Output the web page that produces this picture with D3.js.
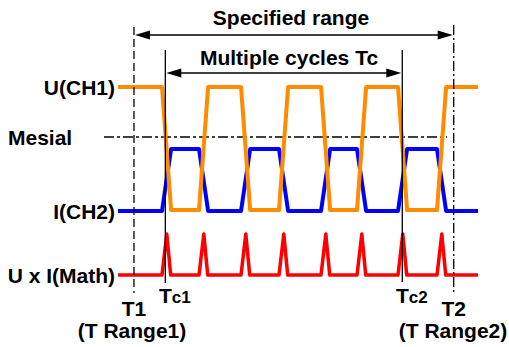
<!DOCTYPE html>
<html><head><meta charset="utf-8">
<script src="https://cdn.jsdelivr.net/npm/d3@7"></script>
<style>html,body{margin:0;padding:0;background:#fff;}svg{display:block;}</style>
</head><body>
<script>
// ---- data (time in arbitrary units, levels in arbitrary display units) ----
const uFallTimes = [5.56, 15.55, 25.66, 35.39];   // U(CH1) falling edges (I rises)
const uRiseTimes = [10.24, 20.35, 30.21, 40.32];  // U(CH1) rising edges (I falls)
const edgeDuration = 1.15;
const spikeDuration = 1.1;
const timeRange = [0, 45.5];
const uLevels = {high: 213, low: 90};
const iLevels = {high: 151, low: 89};
const mathLevels = {base: 25, peak: 66};
const mesialLevel = 163;
const markerNames = ["T1", "Tc1", "Tc2", "T2"];
const markerTimes = [2.02, 5.98, 35.93, 42.43];
const signalLabels = ["U(CH1)", "I(CH2)", "U x I(Math)"];
const rangeLabels = ["Specified range", "Multiple cycles Tc"];
const bottomLabels = ["(T Range1)", "(T Range2)"];

const W = 509, H = 347;
const FS = 21;
const x = d3.scaleLinear().domain(timeRange).range([118, 478]);
const y = d3.scaleLinear().domain([0, 250]).range([300, 50]);

const svg = d3.select("body").append("svg").attr("width", W).attr("height", H)
  .style("font-family", "'Liberation Sans', Arial, sans-serif").style("font-weight", "bold");

// build waveforms
const edges = uFallTimes.map(t => ({t, fall: true})).concat(uRiseTimes.map(t => ({t, fall: false})))
  .sort((a, b) => a.t - b.t);
function square(levels, startHigh, invert) {
  const pts = [[timeRange[0], startHigh ? levels.high : levels.low]];
  edges.forEach(e => {
    const goesLow = invert ? !e.fall : e.fall;
    pts.push([e.t, goesLow ? levels.high : levels.low]);
    pts.push([e.t + edgeDuration, goesLow ? levels.low : levels.high]);
  });
  pts.push([timeRange[1], pts[pts.length - 1][1]]);
  return pts;
}
const uPts = square(uLevels, true, false);
const iPts = square(iLevels, false, true);
const mPts = [[timeRange[0], mathLevels.base]];
edges.forEach(e => {
  mPts.push([e.t, mathLevels.base]);
  mPts.push([e.t + spikeDuration * 0.55, mathLevels.peak]);
  mPts.push([e.t + spikeDuration, mathLevels.base]);
});
mPts.push([timeRange[1], mathLevels.base]);

const line = d3.line().x(d => x(d[0])).y(d => y(d[1]));

// mesial line
svg.append("line").attr("x1", 104).attr("x2", 447)
  .attr("y1", y(mesialLevel)).attr("y2", y(mesialLevel))
  .attr("stroke", "#000").attr("stroke-width", 1.3).attr("stroke-dasharray", "10,3,3,3");

svg.append("path").attr("d", line(iPts)).attr("fill", "none").attr("stroke", "#0000ff")
  .attr("stroke-width", 4).attr("stroke-linejoin", "round");
svg.append("path").attr("d", line(uPts)).attr("fill", "none").attr("stroke", "#ff8c00")
  .attr("stroke-width", 4).attr("stroke-linejoin", "round");
svg.append("path").attr("d", line(mPts)).attr("fill", "none").attr("stroke", "#ff0000")
  .attr("stroke-width", 3.5).attr("stroke-linejoin", "round");

// marker lines
const markerStyles = [
  {top: 273, bottom: 7, dash: "8,4", w: 1.3},
  {top: 250, bottom: 17, dash: null, w: 1.3},
  {top: 250, bottom: 18, dash: null, w: 1.3},
  {top: 275, bottom: 7, dash: "10,3,2,3", w: 1.3}
];
markerTimes.forEach((t, i) => {
  const s = markerStyles[i];
  const l = svg.append("line").attr("x1", x(t)).attr("x2", x(t))
    .attr("y1", y(s.top)).attr("y2", y(s.bottom)).attr("stroke", "#000").attr("stroke-width", s.w);
  if (s.dash) l.attr("stroke-dasharray", s.dash);
});

// arrows
function arrow(x1, x2, yy) {
  svg.append("line").attr("x1", x1 + 10).attr("x2", x2 - 10).attr("y1", yy).attr("y2", yy)
    .attr("stroke", "#000").attr("stroke-width", 1.3);
  svg.append("path").attr("d", `M${x1+1},${yy} L${x1+16},${yy-4.5} L${x1+16},${yy+4.5} Z`).attr("fill", "#000");
  svg.append("path").attr("d", `M${x2-1},${yy} L${x2-16},${yy-4.5} L${x2-16},${yy+4.5} Z`).attr("fill", "#000");
}
arrow(x(markerTimes[0]), x(markerTimes[3]), y(265));
arrow(x(markerTimes[1]), x(markerTimes[2]), y(227));

svg.append("text").attr("x", 291).attr("y", 25).attr("text-anchor", "middle")
  .attr("font-size", FS).text(rangeLabels[0]);
svg.append("text").attr("x", 289).attr("y", 65).attr("text-anchor", "middle")
  .attr("font-size", FS).text(rangeLabels[1]);

// signal labels
[uLevels.high, iLevels.low, mathLevels.base].forEach((lv, i) => {
  svg.append("text").attr("x", 115).attr("y", y(lv) + 7.5).attr("text-anchor", "end")
    .attr("font-size", FS).text(signalLabels[i]);
});
svg.append("text").attr("x", 8).attr("y", y(mesialLevel) + 8).attr("font-size", FS).text("Mesial");

// bottom marker labels
function tLabel(name, cx, yy, anchor) {
  const t = svg.append("text").attr("x", cx).attr("y", yy).attr("text-anchor", anchor).attr("font-size", FS);
  if (name.length > 2) {
    t.append("tspan").text(name[0]);
    t.append("tspan").attr("font-size", 17).text(name.slice(1));
  } else {
    t.text(name);
  }
}
tLabel(markerNames[0], x(markerTimes[0]), 316, "middle");
tLabel(markerNames[1], 159, 303, "start");
tLabel(markerNames[2], 396, 303, "start");
tLabel(markerNames[3], x(markerTimes[3]), 316, "middle");
svg.append("text").attr("x", 132).attr("y", 338).attr("text-anchor", "middle").attr("font-size", FS).text(bottomLabels[0]);
svg.append("text").attr("x", 453).attr("y", 338).attr("text-anchor", "middle").attr("font-size", FS).text(bottomLabels[1]);
</script>
</body></html>
